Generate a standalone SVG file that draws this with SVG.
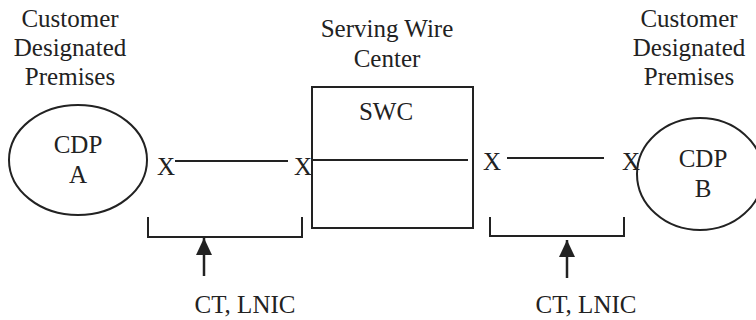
<svg xmlns="http://www.w3.org/2000/svg" width="756" height="320" viewBox="0 0 756 320">
<style>
text{font-family:"Liberation Serif","Times New Roman",serif;font-size:25px;fill:#222;text-anchor:middle}
.s{fill:none;stroke:#222;stroke-width:2}
</style>
<defs>
<marker id="ah" viewBox="0 0 17 16" refX="17" refY="8" markerWidth="17" markerHeight="16" markerUnits="userSpaceOnUse" orient="auto"><path d="M0,0 L17,8 L0,16 z" fill="#222"/></marker>
</defs>
<rect width="756" height="320" fill="#fff"/>
<g id="label-left"><text x="70" y="27">Customer</text><text x="70" y="56">Designated</text><text x="70" y="85">Premises</text></g>
<g id="label-right"><text x="689" y="27">Customer</text><text x="689" y="56">Designated</text><text x="689" y="85">Premises</text></g>
<g id="label-swc"><text x="387" y="37">Serving Wire</text><text x="387" y="67">Center</text></g>
<g id="cdp-a"><ellipse class="s" cx="78" cy="160" rx="69" ry="55"/><text x="78" y="153">CDP</text><text x="78" y="183">A</text></g>
<g id="swc"><rect class="s" x="312" y="87" width="161" height="141"/><text x="386" y="120">SWC</text></g>
<g id="cdp-b"><ellipse class="s" cx="700" cy="174" rx="63" ry="56"/><text x="703" y="167">CDP</text><text x="703" y="197">B</text></g>
<g id="x-marks"><text x="166" y="175">X</text><text x="303" y="175">X</text><text x="492" y="170">X</text><text x="631" y="170">X</text></g>
<g id="connectors">
<line class="s" x1="175" y1="161" x2="288" y2="161"/>
<line class="s" x1="312" y1="160" x2="468" y2="160"/>
<line class="s" x1="507" y1="158" x2="604" y2="158"/>
<path class="s" d="M148,217 V237 H302 V217"/>
<path class="s" d="M490,217 V236 H624 V217"/>
<line class="s" x1="204" y1="276" x2="204" y2="238" marker-end="url(#ah)" style="stroke-width:2.5"/>
<line class="s" x1="567" y1="278" x2="567" y2="240" marker-end="url(#ah)" style="stroke-width:2.5"/>
</g>
<g id="labels-bottom"><text x="245" y="313">CT, LNIC</text><text x="586" y="313">CT, LNIC</text></g>
</svg>
